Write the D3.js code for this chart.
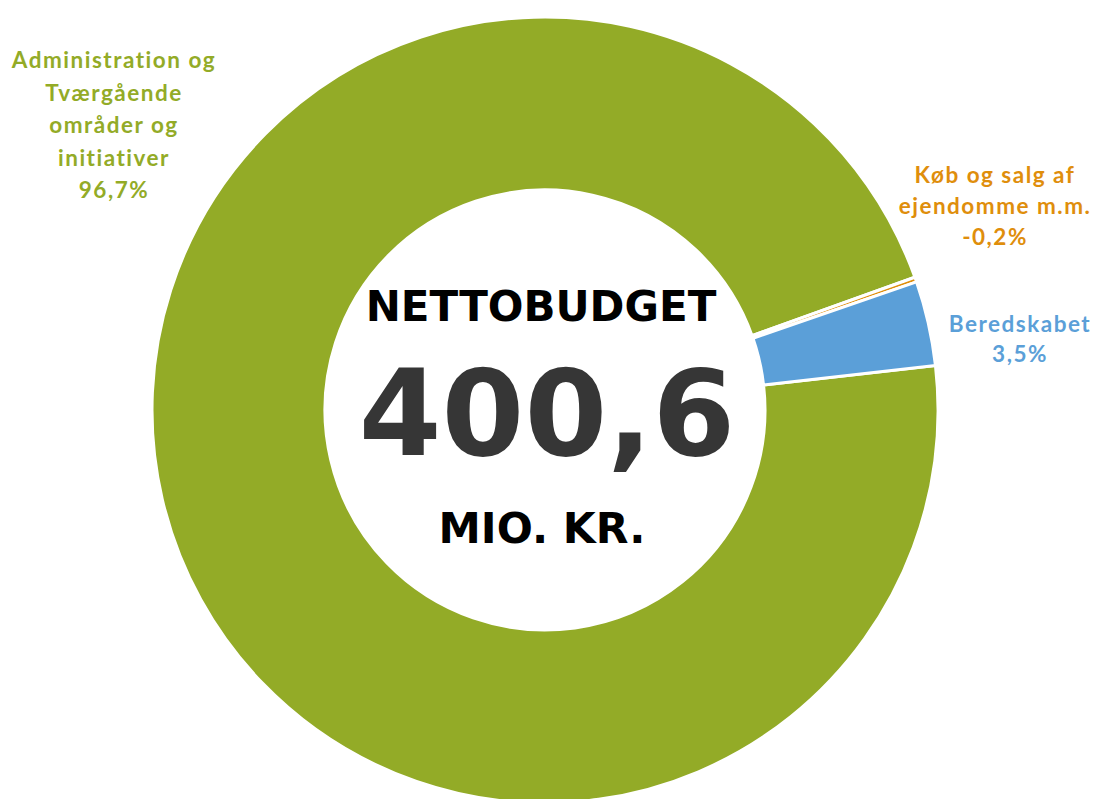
<!DOCTYPE html>
<html>
<head>
<meta charset="utf-8">
<script src="https://cdn.jsdelivr.net/npm/d3@7/dist/d3.min.js"></script>
<style>
  html, body { margin: 0; padding: 0; background: #fff; }
  svg { display: block; }
</style>
</head>
<body>
<svg id="chart" width="1097" height="799"></svg>
<script>
// ---- data ----
const categories = ["Administration og Tværgående områder og initiativer", "Køb og salg af ejendomme m.m.", "Beredskabet"];
const labelLines = [
  ["Administration og", "Tværgående", "områder og", "initiativer"],
  ["Køb og salg af", "ejendomme m.m."],
  ["Beredskabet"]
];
const valuesMioKr = [387.4, -0.8, 14.0];
const totalLabel = "400,6";
const titleTop = "NETTOBUDGET";
const titleBottom = "MIO. KR.";

// ---- layout / style ----
const colors = ["#93AB27", "#DF8E0C", "#5B9FD8"];
const cx = 545, cy = 410, rOuter = 393, rInner = 220;
const startDeg = 83.5;
const labelAnchors = [
  { x: 114, y: 68, dy: 32.5 },
  { x: 995, y: 183, dy: 31 },
  { x: 1020, y: 332, dy: 30 }
];

const svg = d3.select("#chart");
const total = d3.sum(valuesMioKr);
const pctFmt = v => d3.format(".1f")(v * 100).replace("\u2212", "-").replace(".", ",") + "%";

const pie = d3.pie()
  .sort(null)
  .value(d => Math.abs(d))
  .startAngle(startDeg * Math.PI / 180)
  .endAngle(startDeg * Math.PI / 180 + 2 * Math.PI);

const arc = d3.arc().innerRadius(rInner).outerRadius(rOuter);

const g = svg.append("g").attr("transform", `translate(${cx},${cy})`);
g.selectAll("path")
  .data(pie(valuesMioKr))
  .join("path")
  .attr("d", arc)
  .attr("fill", (d, i) => colors[i])
  .attr("stroke", "#fff")
  .attr("stroke-width", 3)
  .attr("stroke-linejoin", "round");

// category labels
labelLines.forEach((lines, i) => {
  const a = labelAnchors[i];
  const t = svg.append("text")
    .attr("text-anchor", "middle")
    .attr("font-family", "Lato, 'Open Sans', sans-serif")
    .attr("font-weight", "bold")
    .attr("font-size", 22.5)
    .attr("letter-spacing", 1.5)
    .attr("fill", colors[i]);
  const all = lines.concat([pctFmt(valuesMioKr[i] / total)]);
  all.forEach((ln, j) => {
    t.append("tspan").attr("x", a.x).attr("y", a.y + j * a.dy).text(ln);
  });
});

// center text
const center = svg.append("g").attr("font-family", "'DejaVu Sans', Verdana, sans-serif").attr("font-weight", "bold").attr("text-anchor", "middle");
center.append("text").attr("x", 541).attr("y", 321).attr("font-size", 42).attr("fill", "#000").text(titleTop);
center.append("text").attr("x", 547).attr("y", 455).attr("font-size", 119).attr("fill", "#363636").text(totalLabel);
center.append("text").attr("x", 542).attr("y", 543).attr("font-size", 42.5).attr("fill", "#000").text(titleBottom);
</script>
</body>
</html>
